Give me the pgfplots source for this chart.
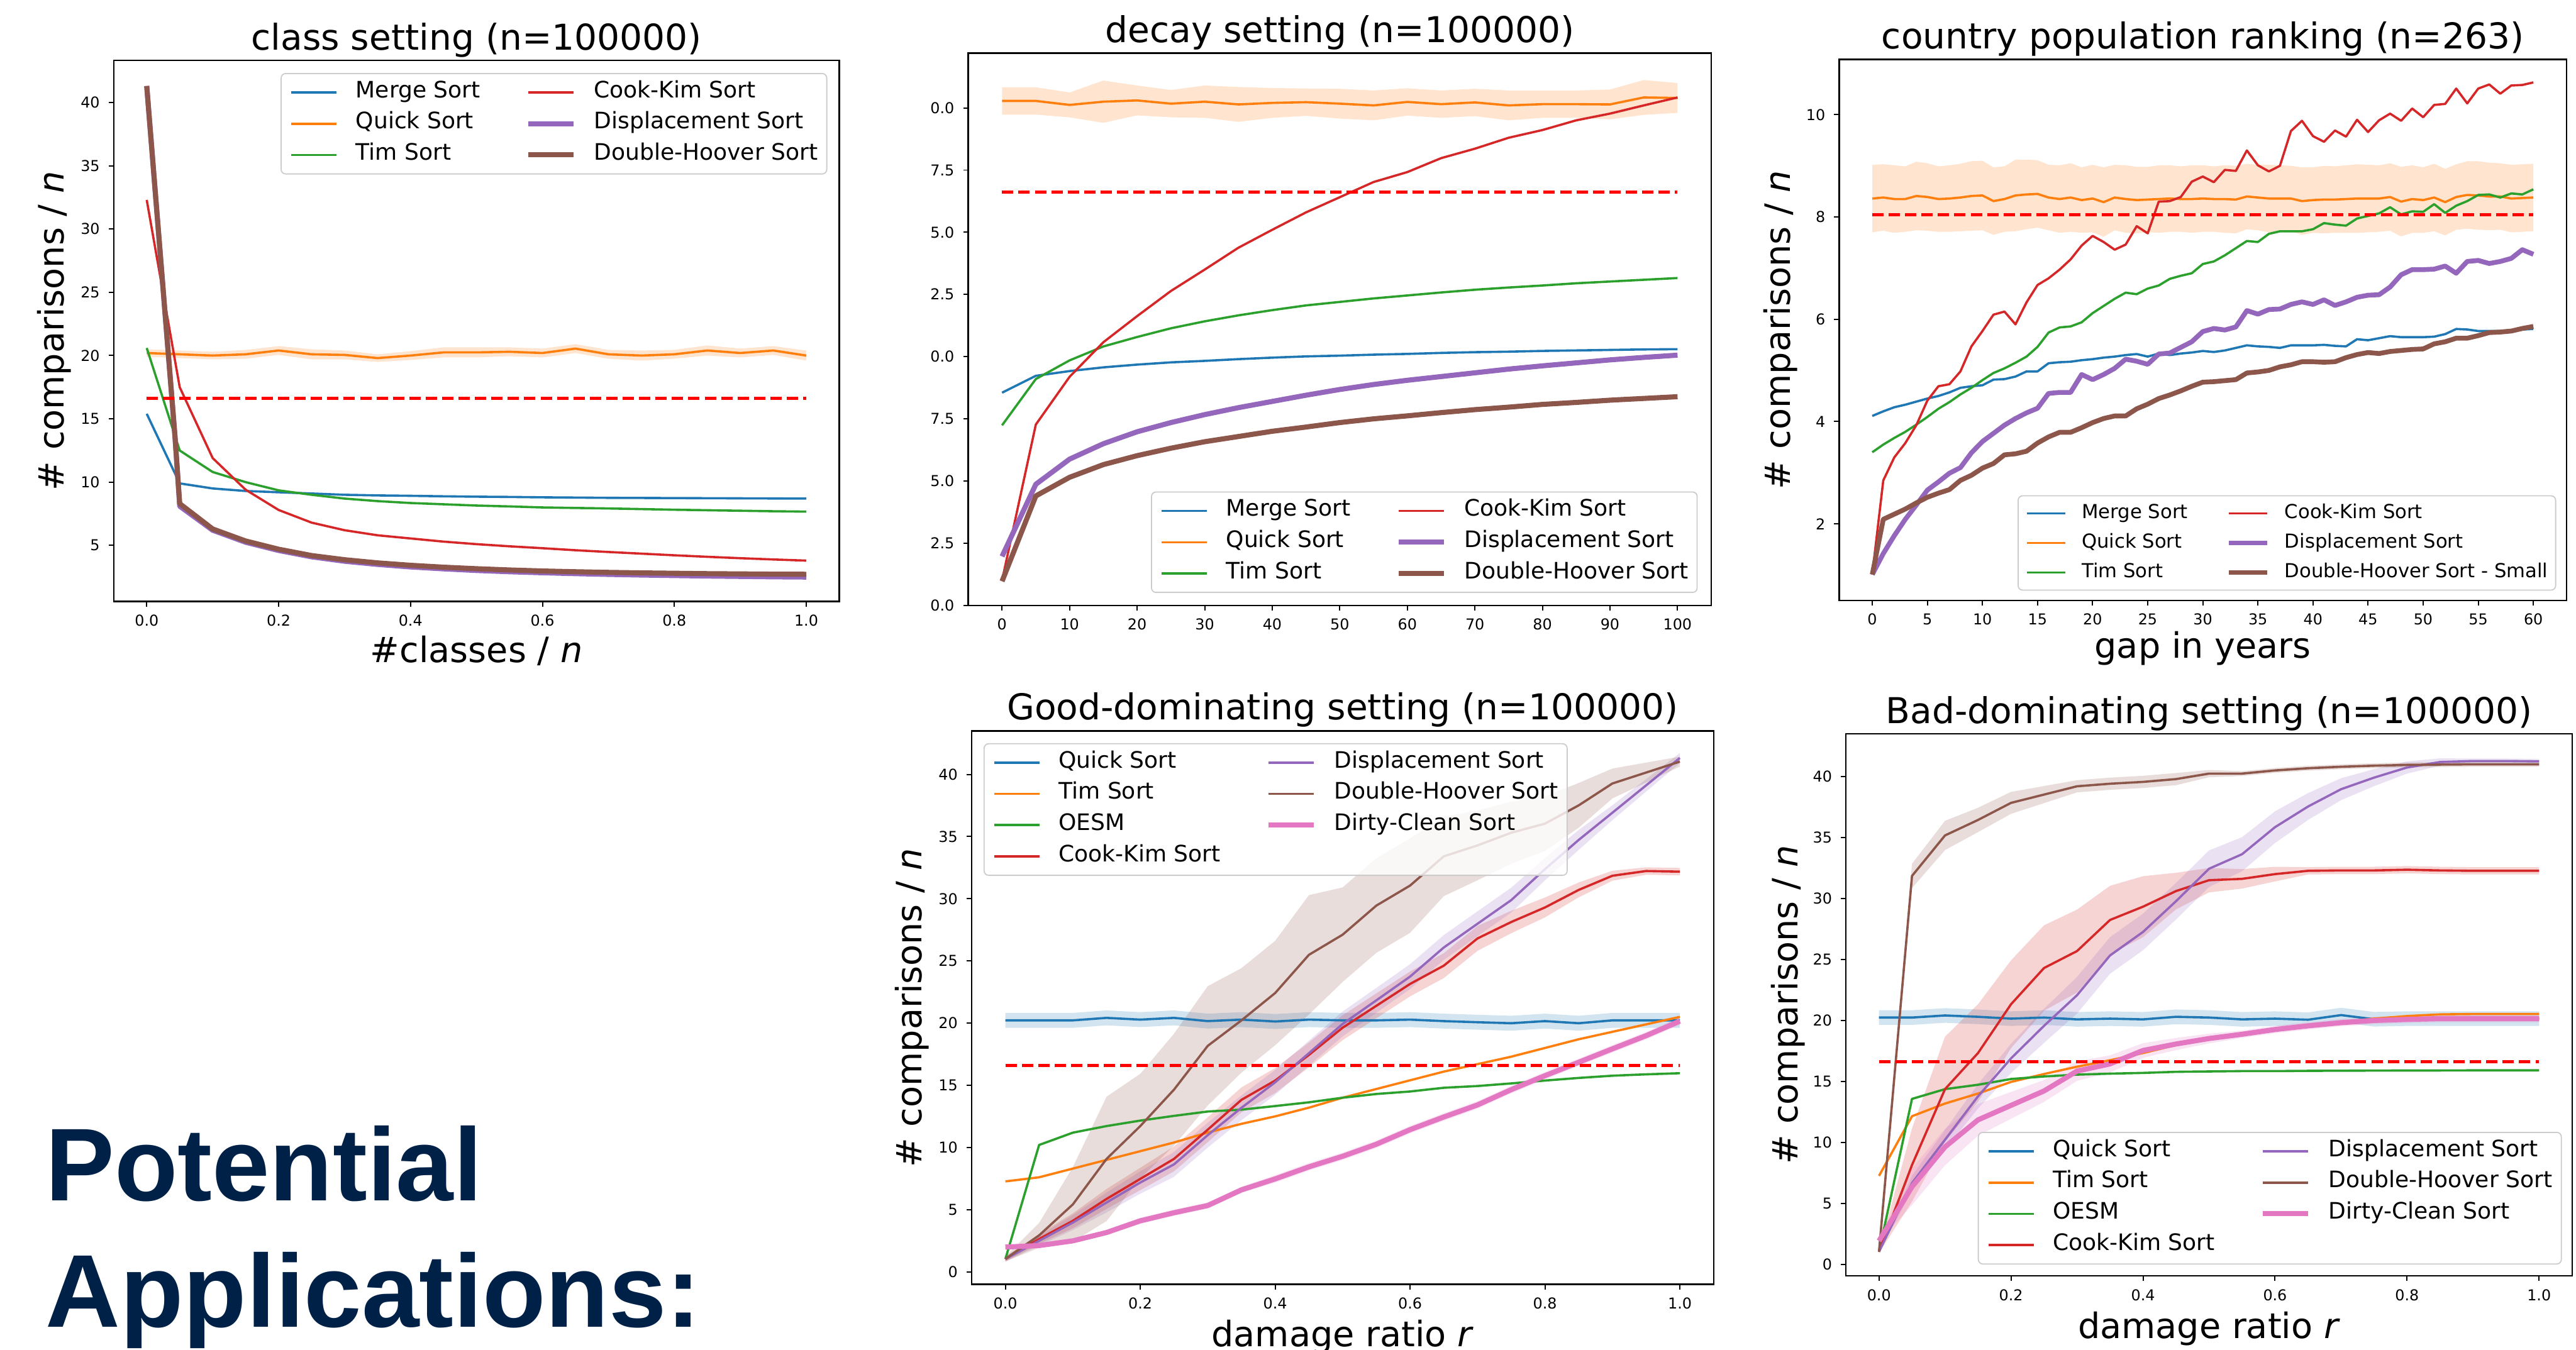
\documentclass[border=0pt]{standalone}
\usepackage{fontspec}
\setmainfont{DejaVu Sans}
\newfontfamily\arialfont{Liberation Sans}
\usepackage{pgfplots}
\usepackage{pgfplotstable}
\usepgfplotslibrary{fillbetween}
\pgfplotsset{compat=1.18}

\definecolor{cBlue}{HTML}{1F77B4}
\definecolor{cOrange}{HTML}{FF7F0E}
\definecolor{cGreen}{HTML}{2CA02C}
\definecolor{cRed}{HTML}{D62728}
\definecolor{cPurple}{HTML}{9467BD}
\definecolor{cBrown}{HTML}{8C564B}
\definecolor{cPink}{HTML}{E377C2}
\definecolor{cDash}{HTML}{FF0000}
\definecolor{cNavy}{HTML}{002147}

\newcommand\tks{\fontsize{7.54}{9}\selectfont}
\newcommand\ttl{\fontsize{17.9}{21}\selectfont}
\newcommand\lbl{\fontsize{17.6}{21}\selectfont}
\newcommand\lgd{\fontsize{11.4}{13.7}\selectfont}
\newcommand\lgds{\fontsize{9.7}{11.6}\selectfont}

\tikzset{lw1/.style={line width=0.04cm}, lw2/.style={line width=0.09cm},
  lw3/.style={line width=0.085cm},
  logn/.style={cDash, line width=0.053cm, dash pattern=on 0.2cm off 0.09cm}}

\pgfplotsset{
  panel/.style={
    scale only axis, anchor=south west,
    axis line style={line width=0.025cm},
    tick align=outside, major tick length=0.09cm,
    every tick/.append style={line width=0.022cm, black},
    xtick pos=left, ytick pos=left,
    tick label style={font=\tks, /pgf/number format/assume math mode=true},
    xticklabel style={anchor=north, inner sep=0pt, yshift=-0.14cm},
    yticklabel style={anchor=east, inner sep=0pt, xshift=-0.15cm},
    every axis title shift=0pt,
    title style={font=\ttl, anchor=base, inner sep=0pt},
    every axis x label/.style={anchor=base, font=\lbl, inner sep=0pt},
    every axis y label/.style={rotate=90, anchor=base, font=\lbl, inner sep=0pt},
    every axis plot/.append style={line join=round},
    legend cell align=left,
    legend image code/.code={\draw[##1] (0cm,0cm) -- (0.8cm,0cm);},
    legend style={font=\lgd, draw=black!20, line width=0.02cm,
      rounded corners=0.08cm, fill=white, fill opacity=0.8, text opacity=1,
      draw opacity=1, inner sep=0.16cm, row sep=0.2cm,
      nodes={inner sep=0pt, text height=0.76em, text depth=0.24em},
      /tikz/every odd column/.append style={column sep=0.32cm},
      /tikz/every even column/.append style={column sep=0.8cm}},
  },
}

% class setting
\pgfplotstableread{
x ms qs qsd ts ck
0.00 15.4 20.2 0.30 20.6 32.3
0.05 9.9 20.1 0.30 12.5 17.5
0.10 9.5 20.0 0.30 10.8 11.9
0.15 9.3 20.1 0.35 10.0 9.4
0.20 9.2 20.4 0.35 9.35 7.8
0.25 9.1 20.1 0.40 9.0 6.8
0.30 9.0 20.05 0.35 8.7 6.2
0.35 8.95 19.8 0.30 8.5 5.8
0.40 8.92 20.0 0.35 8.35 5.55
0.45 8.88 20.25 0.40 8.25 5.3
0.50 8.85 20.25 0.40 8.15 5.1
0.55 8.83 20.3 0.35 8.08 4.93
0.60 8.8 20.2 0.35 8.0 4.78
0.65 8.78 20.55 0.35 7.96 4.62
0.70 8.76 20.1 0.35 7.92 4.48
0.75 8.75 20.0 0.40 7.87 4.35
0.80 8.74 20.1 0.35 7.82 4.22
0.85 8.73 20.4 0.40 7.78 4.1
0.90 8.72 20.2 0.35 7.74 3.99
0.95 8.71 20.4 0.35 7.7 3.89
1.00 8.7 20.0 0.40 7.67 3.8
}\tA

% decay setting
\pgfplotstableread{
x ms qs qsd ts ck ds dh
0 8.55 20.28 0.55 7.24 1.0 1.97 0.97
5 9.23 20.28 0.55 9.1 7.27 4.87 4.4
10 9.42 20.12 0.50 9.85 9.19 5.88 5.15
15 9.57 20.25 0.85 10.41 10.58 6.5 5.66
20 9.68 20.3 0.60 10.79 11.63 6.98 6.02
25 9.77 20.17 0.55 11.14 12.64 7.35 6.32
30 9.83 20.25 0.65 11.42 13.5 7.67 6.58
35 9.9 20.14 0.70 11.66 14.38 7.95 6.79
40 9.96 20.2 0.60 11.87 15.1 8.2 7.0
45 10.01 20.23 0.55 12.06 15.8 8.45 7.17
50 10.04 20.17 0.60 12.2 16.41 8.68 7.35
55 10.08 20.1 0.60 12.34 17.02 8.88 7.5
60 10.11 20.24 0.55 12.46 17.42 9.05 7.62
65 10.15 20.15 0.55 12.58 17.98 9.2 7.75
70 10.18 20.22 0.55 12.69 18.36 9.35 7.87
75 10.2 20.1 0.60 12.78 18.8 9.5 7.97
80 10.23 20.15 0.55 12.86 19.11 9.63 8.08
85 10.25 20.15 0.55 12.95 19.5 9.75 8.16
90 10.27 20.14 0.60 13.02 19.77 9.87 8.25
95 10.29 20.42 0.70 13.09 20.1 9.97 8.32
100 10.3 20.4 0.60 13.16 20.42 10.06 8.39
}\tB

% country population ranking
\pgfplotstableread{
x ms qs qsd ts ck ds dh
0 4.11 8.36 0.66 3.40 1.01 1.01 1.01
1 4.20 8.38 0.65 3.55 2.85 1.42 2.09
2 4.28 8.35 0.66 3.68 3.30 1.77 2.19
3 4.33 8.35 0.64 3.80 3.58 2.09 2.29
4 4.39 8.41 0.67 3.94 3.93 2.37 2.41
5 4.45 8.39 0.66 4.09 4.41 2.66 2.52
6 4.50 8.35 0.64 4.25 4.69 2.82 2.60
7 4.57 8.36 0.65 4.38 4.73 2.99 2.67
8 4.66 8.38 0.66 4.53 4.98 3.10 2.85
9 4.69 8.41 0.68 4.66 5.47 3.39 2.95
10 4.71 8.42 0.68 4.81 5.77 3.61 3.09
11 4.82 8.31 0.66 4.95 6.09 3.77 3.18
12 4.83 8.35 0.64 5.04 6.15 3.93 3.35
13 4.88 8.42 0.70 5.15 5.90 4.06 3.37
14 4.98 8.44 0.68 5.27 6.33 4.17 3.42
15 4.98 8.45 0.66 5.46 6.67 4.26 3.58
16 5.14 8.38 0.64 5.74 6.80 4.55 3.70
17 5.16 8.35 0.66 5.84 6.97 4.57 3.79
18 5.17 8.38 0.67 5.86 7.17 4.57 3.79
19 5.20 8.33 0.64 5.94 7.44 4.92 3.88
20 5.22 8.36 0.66 6.12 7.63 4.82 3.98
21 5.25 8.29 0.68 6.26 7.51 4.92 4.06
22 5.27 8.38 0.64 6.40 7.36 5.04 4.11
23 5.30 8.35 0.66 6.52 7.46 5.22 4.11
24 5.32 8.33 0.65 6.49 7.82 5.18 4.25
25 5.27 8.34 0.64 6.60 7.68 5.12 4.34
26 5.33 8.35 0.66 6.66 8.30 5.32 4.45
27 5.30 8.36 0.65 6.79 8.31 5.34 4.52
28 5.33 8.35 0.64 6.85 8.39 5.45 4.60
29 5.35 8.35 0.66 6.90 8.69 5.56 4.69
30 5.38 8.36 0.65 7.08 8.79 5.76 4.77
31 5.36 8.35 0.64 7.13 8.68 5.82 4.78
32 5.39 8.35 0.66 7.25 8.92 5.79 4.80
33 5.44 8.34 0.66 7.39 8.90 5.85 4.82
34 5.49 8.40 0.64 7.53 9.30 6.17 4.95
35 5.47 8.38 0.64 7.51 9.01 6.10 4.97
36 5.46 8.36 0.66 7.67 8.89 6.19 5.00
37 5.44 8.36 0.65 7.72 9.00 6.20 5.07
38 5.49 8.36 0.64 7.72 9.68 6.29 5.11
39 5.49 8.31 0.66 7.72 9.88 6.34 5.17
40 5.49 8.33 0.64 7.76 9.58 6.29 5.17
41 5.50 8.34 0.66 7.88 9.47 6.38 5.16
42 5.48 8.34 0.65 7.85 9.69 6.27 5.17
43 5.47 8.35 0.66 7.83 9.57 6.34 5.25
44 5.61 8.36 0.67 7.97 9.90 6.43 5.31
45 5.59 8.36 0.66 8.02 9.66 6.47 5.35
46 5.63 8.36 0.65 8.07 9.89 6.48 5.33
47 5.67 8.39 0.66 8.19 10.02 6.63 5.37
48 5.65 8.30 0.68 8.05 9.88 6.87 5.39
49 5.65 8.35 0.66 8.11 10.12 6.97 5.41
50 5.65 8.33 0.64 8.10 9.95 6.97 5.42
51 5.66 8.38 0.66 8.25 10.19 6.98 5.52
52 5.71 8.29 0.65 8.08 10.21 7.04 5.56
53 5.81 8.39 0.64 8.22 10.51 6.90 5.63
54 5.80 8.43 0.66 8.31 10.22 7.13 5.63
55 5.77 8.42 0.67 8.43 10.51 7.15 5.68
56 5.77 8.40 0.66 8.44 10.59 7.09 5.74
57 5.77 8.40 0.65 8.38 10.41 7.13 5.75
58 5.79 8.36 0.66 8.46 10.57 7.19 5.77
59 5.80 8.37 0.66 8.44 10.58 7.36 5.82
60 5.81 8.38 0.66 8.54 10.63 7.27 5.86
}\tC

% good-dominating setting
\pgfplotstableread{
x qs qsd ts oe ck ckd ds dsd dh dhd dc dcd
0.00 20.22 0.6 7.27 1.03 1.03 0.2 1.03 0.2 1.03 0.2 1.99 0.15
0.05 20.22 0.6 7.6 10.2 2.64 0.4 2.49 0.4 2.93 1.0 2.11 0.2
0.10 20.22 0.6 8.3 11.19 4.10 0.6 3.96 0.6 5.42 3.0 2.49 0.2
0.15 20.42 0.6 9.0 11.72 5.86 0.8 5.57 0.8 9.08 5.0 3.16 0.2
0.20 20.28 0.6 9.7 12.16 7.47 0.9 7.18 0.9 11.72 4.2 4.10 0.25
0.25 20.42 0.6 10.4 12.54 9.08 1.0 8.64 1.0 14.65 4.5 4.75 0.25
0.30 20.16 0.6 11.2 12.89 11.43 1.0 10.99 1.0 18.17 4.8 5.33 0.25
0.35 20.28 0.6 11.9 13.04 13.83 1.0 13.19 1.0 20.22 4.2 6.59 0.25
0.40 20.13 0.6 12.5 13.33 15.38 1.0 15.24 1.0 22.42 4.2 7.47 0.3
0.45 20.28 0.6 13.2 13.63 17.44 1.0 17.58 1.0 25.49 4.8 8.44 0.3
0.50 20.22 0.6 14.0 14.0 19.63 1.0 19.93 1.0 27.11 3.8 9.29 0.3
0.55 20.22 0.6 14.7 14.3 21.39 1.0 21.83 1.0 29.45 3.8 10.26 0.3
0.60 20.28 0.6 15.4 14.5 23.15 1.0 23.74 1.0 31.06 3.8 11.43 0.3
0.65 20.16 0.6 16.1 14.8 24.62 1.0 26.08 1.0 33.41 3.2 12.45 0.3
0.70 20.07 0.6 16.7 14.94 26.81 1.0 27.99 1.0 34.29 2.8 13.42 0.3
0.75 19.99 0.6 17.3 15.15 28.13 0.9 29.89 1.0 35.31 2.5 14.65 0.3
0.80 20.16 0.6 18.0 15.38 29.30 0.8 32.38 0.9 36.04 2.2 15.77 0.3
0.85 19.99 0.6 18.7 15.59 30.71 0.6 34.73 0.8 37.51 1.8 16.85 0.3
0.90 20.22 0.6 19.3 15.77 31.85 0.4 36.92 0.6 39.27 1.2 17.93 0.3
0.95 20.22 0.6 19.9 15.88 32.23 0.3 39.12 0.5 40.15 0.8 18.99 0.3
1.00 20.22 0.6 20.5 15.97 32.18 0.3 41.32 0.4 41.03 0.4 20.16 0.3
}\tD

% bad-dominating setting
\pgfplotstableread{
x qs qsd ts oe ck ckd ds dsd dh dhd dc dcd
0.00 20.24 0.6 7.26 1.04 1.04 0.1 1.04 0.1 1.04 0.1 1.93 0.1
0.05 20.24 0.6 12.15 13.57 8.15 3.0 6.67 0.6 31.85 1.0 6.37 1.5
0.10 20.41 0.6 13.19 14.37 14.37 4.3 10.22 0.8 35.17 1.2 9.63 1.5
0.15 20.30 0.6 14.01 14.73 17.33 4.0 13.78 1.0 36.44 1.0 11.85 1.3
0.20 20.15 0.6 14.96 15.2 21.33 3.6 16.89 1.2 37.84 0.9 13.04 1.1
0.25 20.24 0.6 15.61 15.41 24.30 3.5 19.56 1.4 38.52 0.7 14.22 0.9
0.30 20.09 0.6 16.21 15.56 25.69 3.4 22.07 1.5 39.2 0.5 15.85 0.8
0.35 20.15 0.6 16.74 15.64 28.24 2.8 25.33 1.5 39.41 0.5 16.44 0.7
0.40 20.09 0.6 17.33 15.70 29.33 2.5 27.26 1.5 39.56 0.5 17.54 0.6
0.45 20.30 0.6 17.99 15.79 30.61 1.5 29.78 1.5 39.79 0.5 18.07 0.5
0.50 20.24 0.6 18.46 15.82 31.50 1.0 32.44 1.5 40.24 0.3 18.52 0.4
0.55 20.09 0.6 18.81 15.85 31.61 0.8 33.63 1.4 40.24 0.2 18.87 0.3
0.60 20.15 0.6 19.17 15.85 32.0 0.6 35.85 1.3 40.5 0.2 19.26 0.3
0.65 20.06 0.6 19.56 15.87 32.27 0.3 37.54 1.1 40.68 0.2 19.56 0.3
0.70 20.44 0.6 19.85 15.88 32.30 0.3 38.96 0.9 40.8 0.2 19.82 0.3
0.75 20.10 0.6 20.15 15.89 32.30 0.3 39.91 0.7 40.89 0.2 20.0 0.3
0.80 20.15 0.6 20.36 15.9 32.36 0.3 40.74 0.5 40.95 0.2 20.09 0.3
0.85 20.15 0.6 20.5 15.9 32.30 0.3 41.19 0.3 40.98 0.2 20.15 0.3
0.90 20.15 0.6 20.53 15.91 32.27 0.3 41.27 0.2 41.0 0.2 20.15 0.3
0.95 20.15 0.6 20.53 15.91 32.27 0.3 41.27 0.2 41.0 0.2 20.15 0.3
1.00 20.15 0.6 20.53 15.91 32.27 0.3 41.24 0.2 41.0 0.2 20.15 0.3
}\tE

\begin{document}
\begin{tikzpicture}

% ---------- class setting ----------
\begin{axis}[panel, at={(2.01cm,13.23cm)}, width=12.82cm, height=9.56cm,
  xmin=-0.05, xmax=1.05, ymin=0.574, ymax=43.31,
  xtick={0,0.2,0.4,0.6,0.8,1}, xticklabels={0.0,0.2,0.4,0.6,0.8,1.0},
  ytick={5,10,15,20,25,30,35,40},
  title={class setting (n=100000)}, title style={at={(axis description cs:0.5,1.02)}},
  xlabel={\#classes / \textit{n}}, xlabel style={at={(axis description cs:0.5,-0.113)}},
  ylabel={\# comparisons / \textit{n}}, ylabel style={at={(axis description cs:-0.0686,0.5)}},
  legend columns=2, legend style={at={(0.9836,0.977)}, anchor=north east}]
\addplot[cBlue, lw1, forget plot] table[x=x, y=ms] {\tA};
\addplot[name path=a1, draw=none, forget plot] table[x=x, y expr=\thisrow{qs}+\thisrow{qsd}] {\tA};
\addplot[name path=a2, draw=none, forget plot] table[x=x, y expr=\thisrow{qs}-\thisrow{qsd}] {\tA};
\addplot[fill=cOrange, fill opacity=0.2, draw=none, forget plot] fill between[of=a1 and a2];
\addplot[cOrange, lw1, forget plot] table[x=x, y=qs] {\tA};
\addplot[cGreen, lw1, forget plot] table[x=x, y=ts] {\tA};
\addplot[cRed, lw1, forget plot] table[x=x, y=ck] {\tA};
\addplot[cPurple, lw2, forget plot] coordinates {(0,41.3)(0.043,13.5)(0.05,8.1)(0.1,6.2)(0.15,5.25)(0.2,4.6)(0.25,4.1)(0.3,3.75)(0.35,3.5)(0.4,3.3)(0.45,3.15)(0.5,3.02)(0.55,2.92)(0.6,2.84)(0.65,2.77)(0.7,2.71)(0.75,2.66)(0.8,2.62)(0.85,2.58)(0.9,2.55)(0.95,2.52)(1.0,2.5)};
\addplot[cBrown, lw2, forget plot] coordinates {(0,41.3)(0.043,13.5)(0.05,8.3)(0.1,6.3)(0.15,5.35)(0.2,4.7)(0.25,4.2)(0.3,3.87)(0.35,3.62)(0.4,3.43)(0.45,3.28)(0.5,3.16)(0.55,3.06)(0.6,2.98)(0.65,2.92)(0.7,2.87)(0.75,2.83)(0.8,2.8)(0.85,2.77)(0.9,2.75)(0.95,2.73)(1.0,2.72)};
\addplot[logn, forget plot] coordinates {(0,16.61)(1,16.61)};
\addlegendimage{cBlue, lw1}\addlegendentry{Merge Sort}
\addlegendimage{cRed, lw1}\addlegendentry{Cook-Kim Sort}
\addlegendimage{cOrange, lw1}\addlegendentry{Quick Sort}
\addlegendimage{cPurple, lw2}\addlegendentry{Displacement Sort}
\addlegendimage{cGreen, lw1}\addlegendentry{Tim Sort}
\addlegendimage{cBrown, lw2}\addlegendentry{Double-Hoover Sort}
\end{axis}

% ---------- decay setting (its picture is cropped on the left in the slide) ----------
\begin{axis}[panel, at={(17.11cm,13.16cm)}, width=13.13cm, height=9.76cm,
  xmin=-5, xmax=105, ymin=0, ymax=22.2,
  xtick={0,10,20,30,40,50,60,70,80,90,100},
  ytick={0,2.5,5,7.5,10,12.5,15,17.5,20},
  yticklabels={0.0,2.5,5.0,7.5,0.0,2.5,5.0,7.5,0.0},
  title={decay setting (n=100000)}, title style={at={(axis description cs:0.5,1.0195)}},
  legend columns=2, legend style={at={(0.9817,0.0225)}, anchor=south east}]
\addplot[cBlue, lw1, forget plot] table[x=x, y=ms] {\tB};
\addplot[name path=b1, draw=none, forget plot] table[x=x, y expr=\thisrow{qs}+\thisrow{qsd}] {\tB};
\addplot[name path=b2, draw=none, forget plot] table[x=x, y expr=\thisrow{qs}-\thisrow{qsd}] {\tB};
\addplot[fill=cOrange, fill opacity=0.2, draw=none, forget plot] fill between[of=b1 and b2];
\addplot[cOrange, lw1, forget plot] table[x=x, y=qs] {\tB};
\addplot[cGreen, lw1, forget plot] table[x=x, y=ts] {\tB};
\addplot[cRed, lw1, forget plot] table[x=x, y=ck] {\tB};
\addplot[cPurple, lw2, forget plot] table[x=x, y=ds] {\tB};
\addplot[cBrown, lw2, forget plot] table[x=x, y=dh] {\tB};
\addplot[logn, forget plot] coordinates {(0,16.61)(100,16.61)};
\addlegendimage{cBlue, lw1}\addlegendentry{Merge Sort}
\addlegendimage{cRed, lw1}\addlegendentry{Cook-Kim Sort}
\addlegendimage{cOrange, lw1}\addlegendentry{Quick Sort}
\addlegendimage{cPurple, lw2}\addlegendentry{Displacement Sort}
\addlegendimage{cGreen, lw1}\addlegendentry{Tim Sort}
\addlegendimage{cBrown, lw2}\addlegendentry{Double-Hoover Sort}
\end{axis}

% ---------- country population ranking ----------
\begin{axis}[panel, at={(32.50cm,13.25cm)}, width=12.85cm, height=9.56cm,
  xmin=-3, xmax=63, ymin=0.506, ymax=11.08,
  xtick={0,5,10,15,20,25,30,35,40,45,50,55,60},
  ytick={2,4,6,8,10},
  title={country population ranking (n=263)}, title style={at={(axis description cs:0.5,1.02)}},
  xlabel={gap in years}, xlabel style={at={(axis description cs:0.5,-0.1067)}},
  ylabel={\# comparisons / \textit{n}}, ylabel style={at={(axis description cs:-0.0677,0.5)}},
  legend image code/.code={\draw[#1] (0cm,0cm) -- (0.68cm,0cm);},
  legend columns=2, legend style={at={(0.986,0.0178)}, anchor=south east,
    font=\lgds, inner sep=0.136cm, row sep=0.17cm,
    /tikz/every odd column/.append style={column sep=0.27cm},
    /tikz/every even column/.append style={column sep=0.68cm}}]
\addplot[cBlue, lw1, forget plot] table[x=x, y=ms] {\tC};
\addplot[name path=c1, draw=none, forget plot] table[x=x, y expr=\thisrow{qs}+\thisrow{qsd}] {\tC};
\addplot[name path=c2, draw=none, forget plot] table[x=x, y expr=\thisrow{qs}-\thisrow{qsd}] {\tC};
\addplot[fill=cOrange, fill opacity=0.2, draw=none, forget plot] fill between[of=c1 and c2];
\addplot[cOrange, lw1, forget plot] table[x=x, y=qs] {\tC};
\addplot[cGreen, lw1, forget plot] table[x=x, y=ts] {\tC};
\addplot[cRed, lw1, forget plot] table[x=x, y=ck] {\tC};
\addplot[cPurple, lw3, forget plot] table[x=x, y=ds] {\tC};
\addplot[cBrown, lw3, forget plot] table[x=x, y=dh] {\tC};
\addplot[logn, forget plot] coordinates {(0,8.04)(60,8.04)};
\addlegendimage{cBlue, lw1}\addlegendentry{Merge Sort}
\addlegendimage{cRed, lw1}\addlegendentry{Cook-Kim Sort}
\addlegendimage{cOrange, lw1}\addlegendentry{Quick Sort}
\addlegendimage{cPurple, lw3}\addlegendentry{Displacement Sort}
\addlegendimage{cGreen, lw1}\addlegendentry{Tim Sort}
\addlegendimage{cBrown, lw3}\addlegendentry{Double-Hoover Sort - Small}
\end{axis}

% ---------- good-dominating setting ----------
\begin{axis}[panel, at={(17.17cm,1.16cm)}, width=13.11cm, height=9.78cm,
  xmin=-0.05, xmax=1.05, ymin=-1.01, ymax=43.49,
  xtick={0,0.2,0.4,0.6,0.8,1}, xticklabels={0.0,0.2,0.4,0.6,0.8,1.0},
  ytick={0,5,10,15,20,25,30,35,40},
  title={Good-dominating setting (n=100000)}, title style={at={(axis description cs:0.5,1.0204)}},
  xlabel={damage ratio \textit{r}}, xlabel style={at={(axis description cs:0.5,-0.1125)}},
  ylabel={\# comparisons / \textit{n}}, ylabel style={at={(axis description cs:-0.0671,0.5)}},
  legend columns=2, legend style={at={(0.016,0.978)}, anchor=north west}]
\addplot[name path=d1, draw=none, forget plot] table[x=x, y expr=\thisrow{qs}+\thisrow{qsd}] {\tD};
\addplot[name path=d2, draw=none, forget plot] table[x=x, y expr=\thisrow{qs}-\thisrow{qsd}] {\tD};
\addplot[fill=cBlue, fill opacity=0.2, draw=none, forget plot] fill between[of=d1 and d2];
\addplot[cBlue, lw1, forget plot] table[x=x, y=qs] {\tD};
\addplot[cOrange, lw1, forget plot] table[x=x, y=ts] {\tD};
\addplot[cGreen, lw1, forget plot] table[x=x, y=oe] {\tD};
\addplot[name path=d3, draw=none, forget plot] table[x=x, y expr=\thisrow{ck}+\thisrow{ckd}] {\tD};
\addplot[name path=d4, draw=none, forget plot] table[x=x, y expr=\thisrow{ck}-\thisrow{ckd}] {\tD};
\addplot[fill=cRed, fill opacity=0.2, draw=none, forget plot] fill between[of=d3 and d4];
\addplot[cRed, lw1, forget plot] table[x=x, y=ck] {\tD};
\addplot[name path=d5, draw=none, forget plot] table[x=x, y expr=\thisrow{ds}+\thisrow{dsd}] {\tD};
\addplot[name path=d6, draw=none, forget plot] table[x=x, y expr=\thisrow{ds}-\thisrow{dsd}] {\tD};
\addplot[fill=cPurple, fill opacity=0.2, draw=none, forget plot] fill between[of=d5 and d6];
\addplot[cPurple, lw1, forget plot] table[x=x, y=ds] {\tD};
\addplot[name path=d7, draw=none, forget plot] table[x=x, y expr=\thisrow{dh}+\thisrow{dhd}] {\tD};
\addplot[name path=d8, draw=none, forget plot] table[x=x, y expr=\thisrow{dh}-\thisrow{dhd}] {\tD};
\addplot[fill=cBrown, fill opacity=0.2, draw=none, forget plot] fill between[of=d7 and d8];
\addplot[cBrown, lw1, forget plot] table[x=x, y=dh] {\tD};
\addplot[name path=d9, draw=none, forget plot] table[x=x, y expr=\thisrow{dc}+\thisrow{dcd}] {\tD};
\addplot[name path=d10, draw=none, forget plot] table[x=x, y expr=\thisrow{dc}-\thisrow{dcd}] {\tD};
\addplot[fill=cPink, fill opacity=0.2, draw=none, forget plot] fill between[of=d9 and d10];
\addplot[cPink, lw2, forget plot] table[x=x, y=dc] {\tD};
\addplot[logn, forget plot] coordinates {(0,16.61)(1,16.61)};
\addlegendimage{cBlue, lw1}\addlegendentry{Quick Sort}
\addlegendimage{cPurple, lw1}\addlegendentry{Displacement Sort}
\addlegendimage{cOrange, lw1}\addlegendentry{Tim Sort}
\addlegendimage{cBrown, lw1}\addlegendentry{Double-Hoover Sort}
\addlegendimage{cGreen, lw1}\addlegendentry{OESM}
\addlegendimage{cPink, lw2}\addlegendentry{Dirty-Clean Sort}
\addlegendimage{cRed, lw1}\addlegendentry{Cook-Kim Sort}
\end{axis}

% ---------- bad-dominating setting ----------
\begin{axis}[panel, at={(32.62cm,1.31cm)}, width=12.83cm, height=9.58cm,
  xmin=-0.05, xmax=1.05, ymin=-0.94, ymax=43.5,
  xtick={0,0.2,0.4,0.6,0.8,1}, xticklabels={0.0,0.2,0.4,0.6,0.8,1.0},
  ytick={0,5,10,15,20,25,30,35,40},
  title={Bad-dominating setting (n=100000)}, title style={at={(axis description cs:0.5,1.0188)}},
  xlabel={damage ratio \textit{r}}, xlabel style={at={(axis description cs:0.5,-0.1148)}},
  ylabel={\# comparisons / \textit{n}}, ylabel style={at={(axis description cs:-0.0663,0.5)}},
  legend columns=2, legend style={at={(0.986,0.0209)}, anchor=south east}]
\addplot[name path=e1, draw=none, forget plot] table[x=x, y expr=\thisrow{qs}+\thisrow{qsd}] {\tE};
\addplot[name path=e2, draw=none, forget plot] table[x=x, y expr=\thisrow{qs}-\thisrow{qsd}] {\tE};
\addplot[fill=cBlue, fill opacity=0.2, draw=none, forget plot] fill between[of=e1 and e2];
\addplot[cBlue, lw1, forget plot] table[x=x, y=qs] {\tE};
\addplot[cOrange, lw1, forget plot] table[x=x, y=ts] {\tE};
\addplot[cGreen, lw1, forget plot] table[x=x, y=oe] {\tE};
\addplot[name path=e3, draw=none, forget plot] table[x=x, y expr=\thisrow{ck}+\thisrow{ckd}] {\tE};
\addplot[name path=e4, draw=none, forget plot] table[x=x, y expr=\thisrow{ck}-\thisrow{ckd}] {\tE};
\addplot[fill=cRed, fill opacity=0.2, draw=none, forget plot] fill between[of=e3 and e4];
\addplot[cRed, lw1, forget plot] table[x=x, y=ck] {\tE};
\addplot[name path=e5, draw=none, forget plot] table[x=x, y expr=\thisrow{ds}+\thisrow{dsd}] {\tE};
\addplot[name path=e6, draw=none, forget plot] table[x=x, y expr=\thisrow{ds}-\thisrow{dsd}] {\tE};
\addplot[fill=cPurple, fill opacity=0.2, draw=none, forget plot] fill between[of=e5 and e6];
\addplot[cPurple, lw1, forget plot] table[x=x, y=ds] {\tE};
\addplot[name path=e7, draw=none, forget plot] table[x=x, y expr=\thisrow{dh}+\thisrow{dhd}] {\tE};
\addplot[name path=e8, draw=none, forget plot] table[x=x, y expr=\thisrow{dh}-\thisrow{dhd}] {\tE};
\addplot[fill=cBrown, fill opacity=0.2, draw=none, forget plot] fill between[of=e7 and e8];
\addplot[cBrown, lw1, forget plot] table[x=x, y=dh] {\tE};
\addplot[name path=e9, draw=none, forget plot] table[x=x, y expr=\thisrow{dc}+\thisrow{dcd}] {\tE};
\addplot[name path=e10, draw=none, forget plot] table[x=x, y expr=\thisrow{dc}-\thisrow{dcd}] {\tE};
\addplot[fill=cPink, fill opacity=0.2, draw=none, forget plot] fill between[of=e9 and e10];
\addplot[cPink, lw2, forget plot] table[x=x, y=dc] {\tE};
\addplot[logn, forget plot] coordinates {(0,16.61)(1,16.61)};
\addlegendimage{cBlue, lw1}\addlegendentry{Quick Sort}
\addlegendimage{cPurple, lw1}\addlegendentry{Displacement Sort}
\addlegendimage{cOrange, lw1}\addlegendentry{Tim Sort}
\addlegendimage{cBrown, lw1}\addlegendentry{Double-Hoover Sort}
\addlegendimage{cGreen, lw1}\addlegendentry{OESM}
\addlegendimage{cPink, lw2}\addlegendentry{Dirty-Clean Sort}
\addlegendimage{cRed, lw1}\addlegendentry{Cook-Kim Sort}
\end{axis}

% ---------- slide text ----------
\node[anchor=base west, inner sep=0pt, text=cNavy,
  font=\arialfont\bfseries\fontsize{52}{60}\selectfont] at (0.80cm,2.64cm) {Potential};
\node[anchor=base west, inner sep=0pt, text=cNavy,
  font=\arialfont\bfseries\fontsize{52}{60}\selectfont] at (0.80cm,0.40cm) {Applications:};

\pgfresetboundingbox
\useasboundingbox (0,0) rectangle (45.52cm,23.86cm);
\end{tikzpicture}
\end{document}
